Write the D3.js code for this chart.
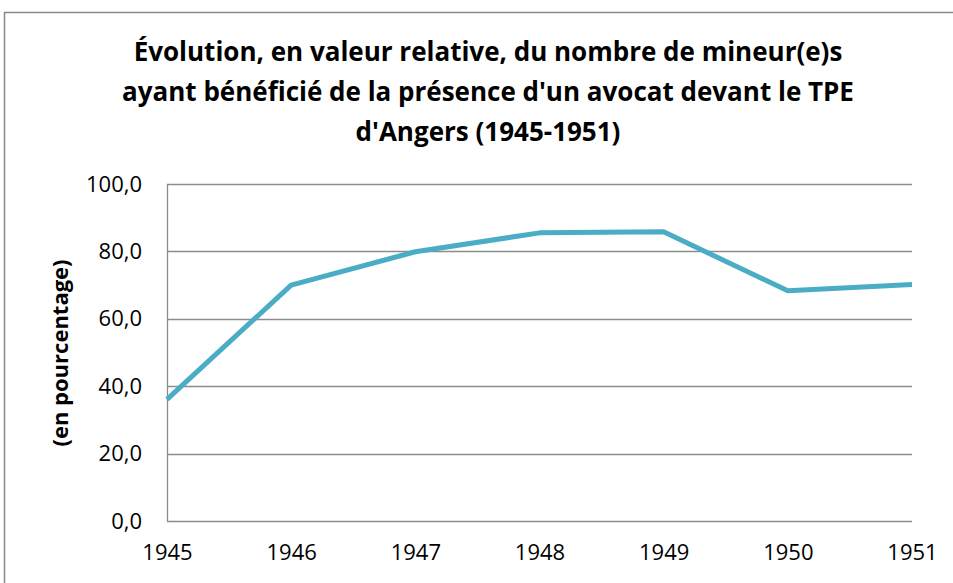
<!DOCTYPE html>
<html>
<head>
<meta charset="utf-8">
<script src="https://cdn.jsdelivr.net/npm/d3@7"></script>
<style>
  body { margin: 0; background: #fff; }
  svg { display: block; }
  .tick text { font-family: "Open Sans", sans-serif; fill: #000; }
</style>
</head>
<body>
<script>
// data
const years = ["1945", "1946", "1947", "1948", "1949", "1950", "1951"];
const percents = [36.1, 70.0, 79.9, 85.5, 85.8, 68.3, 70.2];
const yTicks = [0, 20, 40, 60, 80, 100];
const titleLines = [
  "Évolution, en valeur relative, du nombre de mineur(e)s",
  "ayant bénéficié de la présence d'un avocat devant le TPE",
  "d'Angers (1945-1951)"
];
const yLabel = "(en pourcentage)";

const width = 953, height = 583;
const margin = {left: 167, right: 41, top: 184, bottom: 62};

const svg = d3.select("body").append("svg").attr("width", width).attr("height", height);

// outer chart frame
svg.append("rect")
  .attr("x", 4.5).attr("y", 12.5)
  .attr("width", width + 20).attr("height", height + 20)
  .attr("fill", "none").attr("stroke", "#888").attr("stroke-width", 1.5);

const xScale = d3.scalePoint().domain(years).range([margin.left, width - margin.right]);
const yScale = d3.scaleLinear().domain([0, 100]).range([height - margin.bottom, margin.top]);

// gridlines
svg.append("g")
  .selectAll("line")
  .data(yTicks)
  .enter()
  .append("line")
  .attr("x1", margin.left)
  .attr("x2", width - margin.right)
  .attr("y1", d => Math.round(yScale(d)) + 0.5)
  .attr("y2", d => Math.round(yScale(d)) + 0.5)
  .attr("stroke", "#8c8c8c")
  .attr("stroke-width", 1.3);

// y axis
const yAxis = d3.axisLeft(yScale).tickValues(yTicks)
  .tickFormat(d => d3.format(".1f")(d).replace(".", ","))
  .tickSize(0).tickPadding(25);
svg.append("g")
  .attr("transform", "translate(" + margin.left + ",0)")
  .call(yAxis)
  .call(g => g.select(".domain").attr("stroke", "#8c8c8c").attr("stroke-width", 1.3))
  .call(g => g.selectAll(".tick text").attr("font-size", 22));

// x axis
const xAxis = d3.axisBottom(xScale).tickSize(0).tickPadding(23);
svg.append("g")
  .attr("transform", "translate(0," + (height - margin.bottom) + ")")
  .call(xAxis)
  .call(g => g.select(".domain").remove())
  .call(g => g.selectAll(".tick text").attr("font-size", 22));

// the line
const line = d3.line()
  .x((d, i) => xScale(years[i]))
  .y(d => yScale(d));
svg.append("path")
  .datum(percents)
  .attr("d", line)
  .attr("fill", "none")
  .attr("stroke", "#4bacc6")
  .attr("stroke-width", 5)
  .attr("stroke-linejoin", "round");

// title
svg.append("g")
  .selectAll("text")
  .data(titleLines)
  .enter()
  .append("text")
  .attr("x", 488)
  .attr("y", (d, i) => 61 + i * 40)
  .attr("text-anchor", "middle")
  .attr("font-family", "'Open Sans', sans-serif")
  .attr("font-weight", "bold")
  .attr("font-size", 26)
  .text(d => d);

// y axis title
svg.append("text")
  .attr("transform", "translate(68,353) rotate(-90)")
  .attr("text-anchor", "middle")
  .attr("font-family", "'Open Sans', sans-serif")
  .attr("font-weight", "bold")
  .attr("font-size", 22)
  .text(yLabel);
</script>
</body>
</html>
